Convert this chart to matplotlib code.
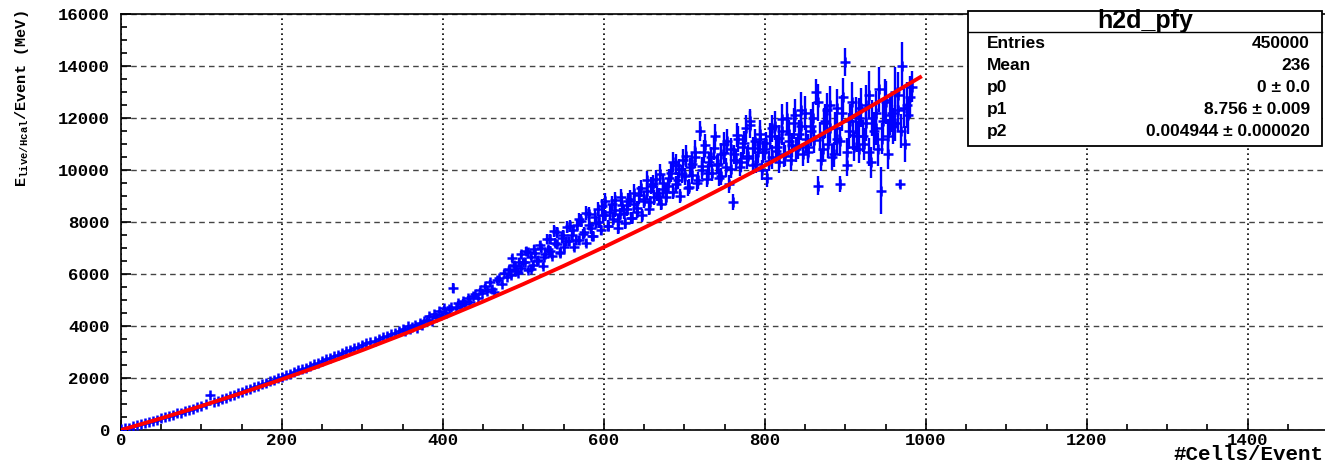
import numpy as np
import matplotlib
matplotlib.use("Agg")
import matplotlib.pyplot as plt
from matplotlib.patches import Rectangle
from matplotlib.lines import Line2D
from matplotlib.ticker import MultipleLocator

#----------------------------------------------------
# Data (profile h2d_pfy)
#----------------------------------------------------
# low region: one point every 5 cells, 0..345
x_low = np.arange(0, 350, 5)
y_low = [20, 60, 95, 140, 190, 225, 270, 310, 360, 400,
         450, 490, 540, 585, 640, 670, 725, 780, 820, 880,
         930, 990, 1350, 1080, 1130, 1190, 1240, 1300, 1350, 1410,
         1480, 1520, 1580, 1650, 1700, 1760, 1820, 1870, 1930, 2000,
         2050, 2100, 2170, 2220, 2290, 2340, 2400, 2460, 2530, 2580,
         2650, 2720, 2770, 2850, 2900, 2960, 3020, 3080, 3150, 3190,
         3260, 3330, 3370, 3440, 3500, 3560, 3600, 3680, 3730, 3800]
e_low = [10, 12, 10, 12, 10, 12, 10, 12, 10, 12,
         12, 14, 12, 14, 12, 14, 12, 14, 12, 14,
         15, 18, 40, 18, 15, 18, 15, 18, 15, 18,
         20, 22, 20, 22, 20, 22, 20, 22, 20, 22,
         25, 28, 25, 28, 25, 28, 25, 28, 25, 28,
         30, 32, 30, 32, 30, 32, 30, 32, 30, 32,
         35, 38, 35, 38, 35, 38, 35, 38, 35, 38]

# high region: one point every 3 cells, 350..983
x_high = np.arange(350, 984, 3)
y_high = [3900, 3820, 4010, 3880, 3960, 4050, 3930, 4120, 4020, 4180,
          4250, 4380, 4190, 4460, 4330, 4560, 4420, 4700, 4510, 4640,
          4720, 5460, 4690, 4880, 4780, 4950, 4860, 5080, 4920, 5150,
          5230, 5060, 5380, 5260, 5520, 5350, 5680, 5440, 5300, 5760,
          5850, 5620, 6050, 5900, 6200, 5960, 6350, 6100, 6480, 6220,
          6450, 6900, 6150, 6650, 6350, 6800, 6550, 7100, 6300, 6750,
          6950, 7350, 6700, 7200, 7600, 6850, 7400, 7050, 7800, 7250,
          7500, 7050, 7900, 7300, 8050, 7600, 7200, 8300, 7750, 7450,
          7950, 8500, 7700, 8250, 8800, 7850, 8400, 8100, 8850, 7750,
          8300, 8650, 7950, 8500, 8900, 8150, 8700, 8400, 9050, 8250,
          8800, 9200, 8500, 9400, 8950, 9650, 9000, 8700, 9500, 9150,
          9400, 9900, 9150, 10200, 9600, 9000, 10400, 9750, 9300, 10100,
          9800, 10500, 9500, 11500, 10000, 10700, 9650, 10300, 9900, 10850,
          10200, 9700, 10600, 11000, 10100, 9450, 10800, 8770, 10400, 11200,
          10300, 10900, 11600, 10550, 11900, 10200, 11100, 10700, 11400, 10000,
          10800, 9700, 11300, 10500, 11700, 10900, 10300, 11500, 10600, 12000,
          11100, 10400, 11800, 10800, 11400, 12300, 10600, 11200, 10900, 11700,
          12000, 13000, 9400, 11300, 10800, 11900, 11000, 12500, 10500, 11600,
          11200, 9450, 12200, 14150, 10700, 11500, 12600, 10900, 11300, 12000,
          12400, 11000, 11800, 12900, 10300, 11500, 12200, 10800, 9200, 11900,
          12600, 11300, 12100, 11700, 13000, 12300, 9460, 14000, 11000, 12500,
          12800, 13200]
e_high = [40, 45, 40, 50, 45, 40, 50, 45, 40, 55,
          50, 45, 55, 50, 60, 50, 55, 60, 50, 60,
          60, 200, 55, 65, 60, 70, 60, 70, 65, 80,
          70, 65, 80, 70, 85, 75, 90, 80, 70, 95,
          90, 80, 100, 90, 110, 95, 120, 100, 120, 110,
          110, 140, 100, 130, 120, 150, 130, 170, 120, 160,
          140, 180, 130, 170, 200, 150, 190, 160, 220, 180,
          180, 150, 220, 170, 240, 200, 160, 260, 210, 190,
          200, 260, 190, 240, 300, 210, 270, 230, 310, 200,
          230, 280, 210, 260, 320, 230, 300, 250, 340, 240,
          260, 300, 240, 330, 280, 360, 290, 250, 340, 300,
          300, 360, 280, 400, 330, 270, 420, 340, 300, 380,
          330, 420, 300, 380, 350, 440, 310, 380, 340, 450,
          360, 320, 420, 480, 370, 350, 450, 300, 400, 500,
          380, 460, 520, 400, 450, 360, 480, 420, 520, 380,
          420, 350, 500, 450, 560, 430, 400, 540, 470, 620,
          450, 420, 600, 480, 540, 700, 440, 520, 470, 650,
          600, 500, 350, 560, 480, 650, 520, 720, 500, 640,
          580, 300, 700, 550, 520, 680, 800, 560, 600, 750,
          750, 620, 700, 900, 600, 720, 850, 640, 900, 780,
          820, 650, 760, 700, 950, 800, 150, 930, 700, 880,
          800, 600]

# extra bins in the wide-spread part, every 4 cells, 481.5..977.5
x_extra = np.arange(481.5, 980, 4)
y_extra = [6150, 6600, 6300, 6050, 6750, 6450, 6850, 6200, 6950, 6500,
           7000, 6650, 7350, 6900, 7650, 7150, 6800, 7500, 7250, 7850,
           7700, 7300, 8100, 7550, 8350, 7900, 7450, 8200, 8000, 8600,
           8250, 7850, 8700, 8450, 8050, 8950, 8350, 8800, 8150, 9100,
           8550, 9300, 8900, 9600, 8750, 9450, 9100, 9850, 9250, 8950,
           9700, 10300, 9450, 10050, 9850, 10550, 9350, 10250, 10700, 9600,
           10150, 10950, 9900, 10500, 11300, 10250, 9750, 10650, 11100, 10050,
           10600, 11350, 10100, 11050, 10450, 11750, 10850, 10250, 11200, 10700,
           11050, 10350, 11600, 10750, 11250, 11950, 10550, 11400, 10950, 12100,
           10900, 11700, 12200, 10700, 11500, 11150, 12600, 10400, 11800, 12300,
           11600, 10600, 12400, 11100, 12800, 10200, 11900, 11350, 12100, 10800,
           11300, 12500, 10700, 12000, 11600, 13100, 11200, 12700, 10600, 12200,
           11800, 12900, 11500, 12400, 12100]
e_extra = [110, 130, 120, 100, 150, 120, 160, 110, 170, 130,
           150, 130, 190, 160, 220, 170, 140, 210, 180, 240,
           200, 170, 250, 190, 280, 220, 180, 260, 230, 300,
           230, 200, 290, 260, 220, 330, 250, 300, 220, 350,
           260, 330, 280, 370, 260, 340, 300, 380, 310, 280,
           320, 380, 300, 360, 340, 420, 290, 390, 440, 330,
           350, 440, 330, 400, 480, 370, 320, 420, 470, 360,
           380, 470, 350, 450, 400, 520, 420, 370, 480, 430,
           420, 380, 520, 440, 500, 600, 410, 540, 460, 620,
           460, 560, 650, 440, 580, 500, 700, 420, 600, 680,
           550, 480, 700, 560, 750, 450, 650, 580, 700, 520,
           620, 760, 540, 700, 650, 850, 600, 800, 560, 720,
           700, 850, 640, 780, 720]

# fitted curve (red) read at regular cell counts
fit_x = [0, 50, 100, 150, 200, 250, 300, 350, 400, 450, 500,
         550, 600, 650, 700, 750, 800, 850, 900, 950, 995]
fit_y = [0, 450, 925, 1425, 1949, 2498, 3072, 3670, 4293, 4941, 5614,
         6311, 7033, 7780, 8552, 9348, 10169, 11015, 11885, 12780, 13607]

stat_title = "h2d_pfy"
stat_names = ["Entries", "Mean", "p0", "p1", "p2"]
stat_values = ["450000", "236", "0 \u00b1 0.0", "8.756 \u00b1 0.009",
               "0.004944 \u00b1 0.000020"]

#----------------------------------------------------
# Figure
#----------------------------------------------------
W, H = 1325, 462
plt.rcParams["mathtext.fontset"] = "custom"
plt.rcParams["mathtext.rm"] = "Liberation Mono:bold"
plt.rcParams["mathtext.it"] = "Liberation Mono:bold"
plt.rcParams["mathtext.bf"] = "Liberation Mono:bold"

fig = plt.figure(figsize=(W / 100, H / 100), dpi=100)


def fx(px):
    return px / W


def fy(py):
    return 1 - py / H


ax = fig.add_axes([fx(121), fy(430), fx(1325) - fx(121), fy(14) - fy(430)])
ax.set_xlim(0, 1496)
ax.set_ylim(0, 16000)

mono = dict(family="Liberation Mono", weight="bold")
blue = "#0000ff"
pts = dict(fmt="+", color=blue, ms=6.5, mew=1.8, elinewidth=1.7, capsize=0, zorder=3)

ax.errorbar(x_low, y_low, yerr=e_low, **pts)
ax.errorbar(x_high, y_high, yerr=e_high, **pts)
ax.errorbar(x_extra, y_extra, yerr=e_extra, **pts)
ax.plot(fit_x, fit_y, color="#ff0000", lw=2.8, zorder=4, solid_capstyle="butt")

# axes / ticks in ROOT style
ax.xaxis.set_major_locator(MultipleLocator(200))
ax.xaxis.set_minor_locator(MultipleLocator(50))
ax.yaxis.set_major_locator(MultipleLocator(2000))
ax.yaxis.set_minor_locator(MultipleLocator(500))
ax.tick_params(which="both", direction="in", top=False, right=False, width=1.2)
ax.tick_params(which="major", length=7)
ax.tick_params(which="minor", length=4.5)
ax.tick_params(axis="x", pad=2)
ax.tick_params(axis="y", pad=8)
for lab in ax.get_xticklabels() + ax.get_yticklabels():
    lab.set_fontfamily("Liberation Mono")
    lab.set_fontweight("bold")
    lab.set_fontsize(12.5)

ax.xaxis.grid(True, linestyle=(0, (1, 2)), color="black", lw=1.2)
ax.yaxis.grid(True, linestyle=(0, (4, 3)), color="#444444", lw=1.0)
ax.set_axisbelow(True)
ax.spines["right"].set_visible(False)
for s in ["left", "bottom", "top"]:
    ax.spines[s].set_linewidth(1.2)

# axis titles
fig.text(fx(1323), fy(455), "#Cells/Event", ha="right", va="center",
         fontsize=15, **mono)
fig.text(fx(22), fy(10), r"E$_{\mathrm{live/Hcal}}$/Event (MeV)",
         rotation=90, ha="center", va="top", fontsize=11, **mono)

# stats box
box_l, box_r, box_t, box_b, sep = 968, 1322, 11, 146, 32
fig.add_artist(Rectangle((fx(box_l), fy(box_b)), fx(box_r) - fx(box_l),
                         fy(box_t) - fy(box_b), transform=fig.transFigure,
                         facecolor="white", edgecolor="black", lw=1.3, zorder=10))
fig.add_artist(Line2D([fx(box_l), fx(box_r)], [fy(sep), fy(sep)],
                      transform=fig.transFigure, color="black", lw=1.0, zorder=11))
sans = dict(family="Liberation Sans", weight="bold", zorder=12)
fig.text(fx((box_l + box_r) / 2), fy(21), stat_title, ha="center", va="center",
         fontsize=18, **sans)
for i, (name, val) in enumerate(zip(stat_names, stat_values)):
    yy = fy(43 + i * 22.2)
    fig.text(fx(987), yy, name, ha="left", va="center", fontsize=12.5, **sans)
    fig.text(fx(1310), yy, val, ha="right", va="center", fontsize=12.5, **sans)

fig.savefig("out.png", dpi=100)
